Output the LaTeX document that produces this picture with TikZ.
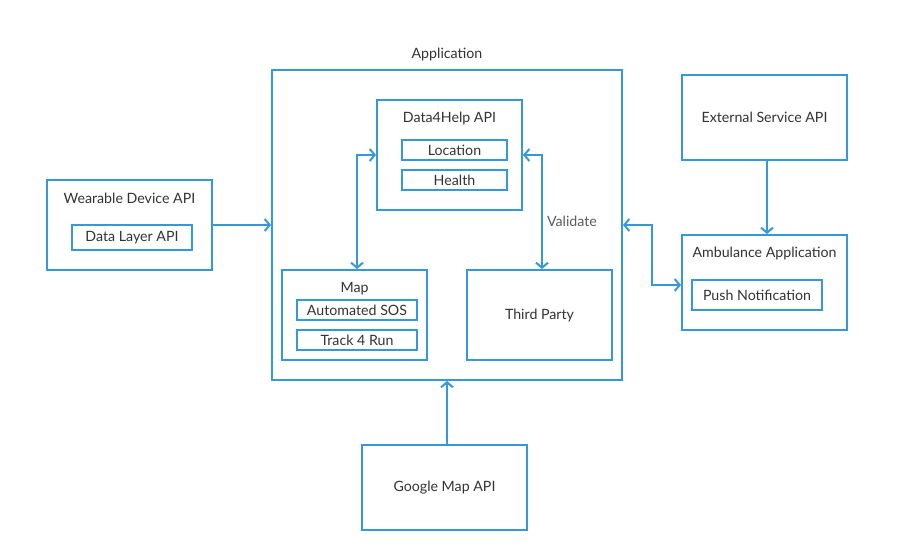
\documentclass[tikz,border=0pt]{standalone}
\usepackage{fontspec}
\setmainfont{Lato}
\usetikzlibrary{arrows.meta}
\definecolor{lblue}{RGB}{52,152,219}
\definecolor{txt}{RGB}{51,51,51}
\begin{document}
\begin{tikzpicture}[x=1pt,y=-1pt,
  box/.style={draw=lblue,line width=2pt,rectangle,inner sep=0pt},
  lab/.style={text=txt,font=\fontsize{14.2}{16}\selectfont,inner sep=0pt},
  conn/.style={draw=lblue,line width=2pt,-{Straight Barb[length=5pt,width=12pt,line width=2pt]}},
  conn2/.style={draw=lblue,line width=2pt,{Straight Barb[length=5pt,width=12pt,line width=2pt]}-{Straight Barb[length=5pt,width=12pt,line width=2pt]}}]
\useasboundingbox (0,0) rectangle (899,551);
\fill[white] (0,0) rectangle (899,551);
% boxes
\node[box,minimum width=350pt,minimum height=310pt] (app) at (447,225) {};
\node[lab] (apptitle) at (447,54.5) {Application};
\node[box,minimum width=145pt,minimum height=110pt] (d4h) at (449.5,155) {};
\node[lab] (d4ht) at (449.5,118.5) {Data4Help API};
\node[box,minimum width=105pt,minimum height=20pt,lab] (loc) at (454.5,150) {Location};
\node[box,minimum width=105pt,minimum height=20pt,lab] (hea) at (454.5,180) {Health};
\node[box,minimum width=145pt,minimum height=90pt] (map) at (354.5,315) {};
\node[lab] (mapt) at (354.5,288.5) {Map};
\node[box,minimum width=120pt,minimum height=20pt,lab] (sos) at (357,310) {Automated SOS};
\node[box,minimum width=120pt,minimum height=20pt,lab] (t4r) at (357,340) {Track 4 Run};
\node[box,minimum width=145pt,minimum height=90pt,lab] (tp) at (539.5,315) {Third Party};
\node[box,minimum width=165pt,minimum height=90pt] (wear) at (129.5,225) {};
\node[lab] (weart) at (129.5,198.5) {Wearable Device API};
\node[box,minimum width=120pt,minimum height=25pt,lab] (dl) at (132,237.5) {Data Layer API};
\node[box,minimum width=165pt,minimum height=85pt,lab] (ext) at (764.5,117.5) {External Service API};
\node[box,minimum width=165pt,minimum height=95pt] (amb) at (764.5,282.5) {};
\node[lab] (ambt) at (764.5,253.5) {Ambulance Application};
\node[box,minimum width=130pt,minimum height=30pt,lab] (push) at (757,295) {Push Notification};
\node[box,minimum width=165pt,minimum height=85pt,lab] (gmap) at (444.5,487.5) {Google Map API};
\node[lab,text=txt!80] (val) at (572,221) {Validate};
% connectors
\draw[conn] (wear.east |- 0,225) -- (app.west |- 0,225);
\draw[conn2] (d4h.west |- 0,155) -| (map.north -| 357,0);
\draw[conn2] (d4h.east |- 0,155) -| (tp.north -| 542,0);
\draw[conn2] (app.east |- 0,225) -- (652,225) |- (amb.west |- 0,285);
\draw[conn] (ext.south -| 767,0) -- (amb.north -| 767,0);
\draw[conn] (gmap.north -| 447,0) -- (app.south -| 447,0);
\end{tikzpicture}
\end{document}
